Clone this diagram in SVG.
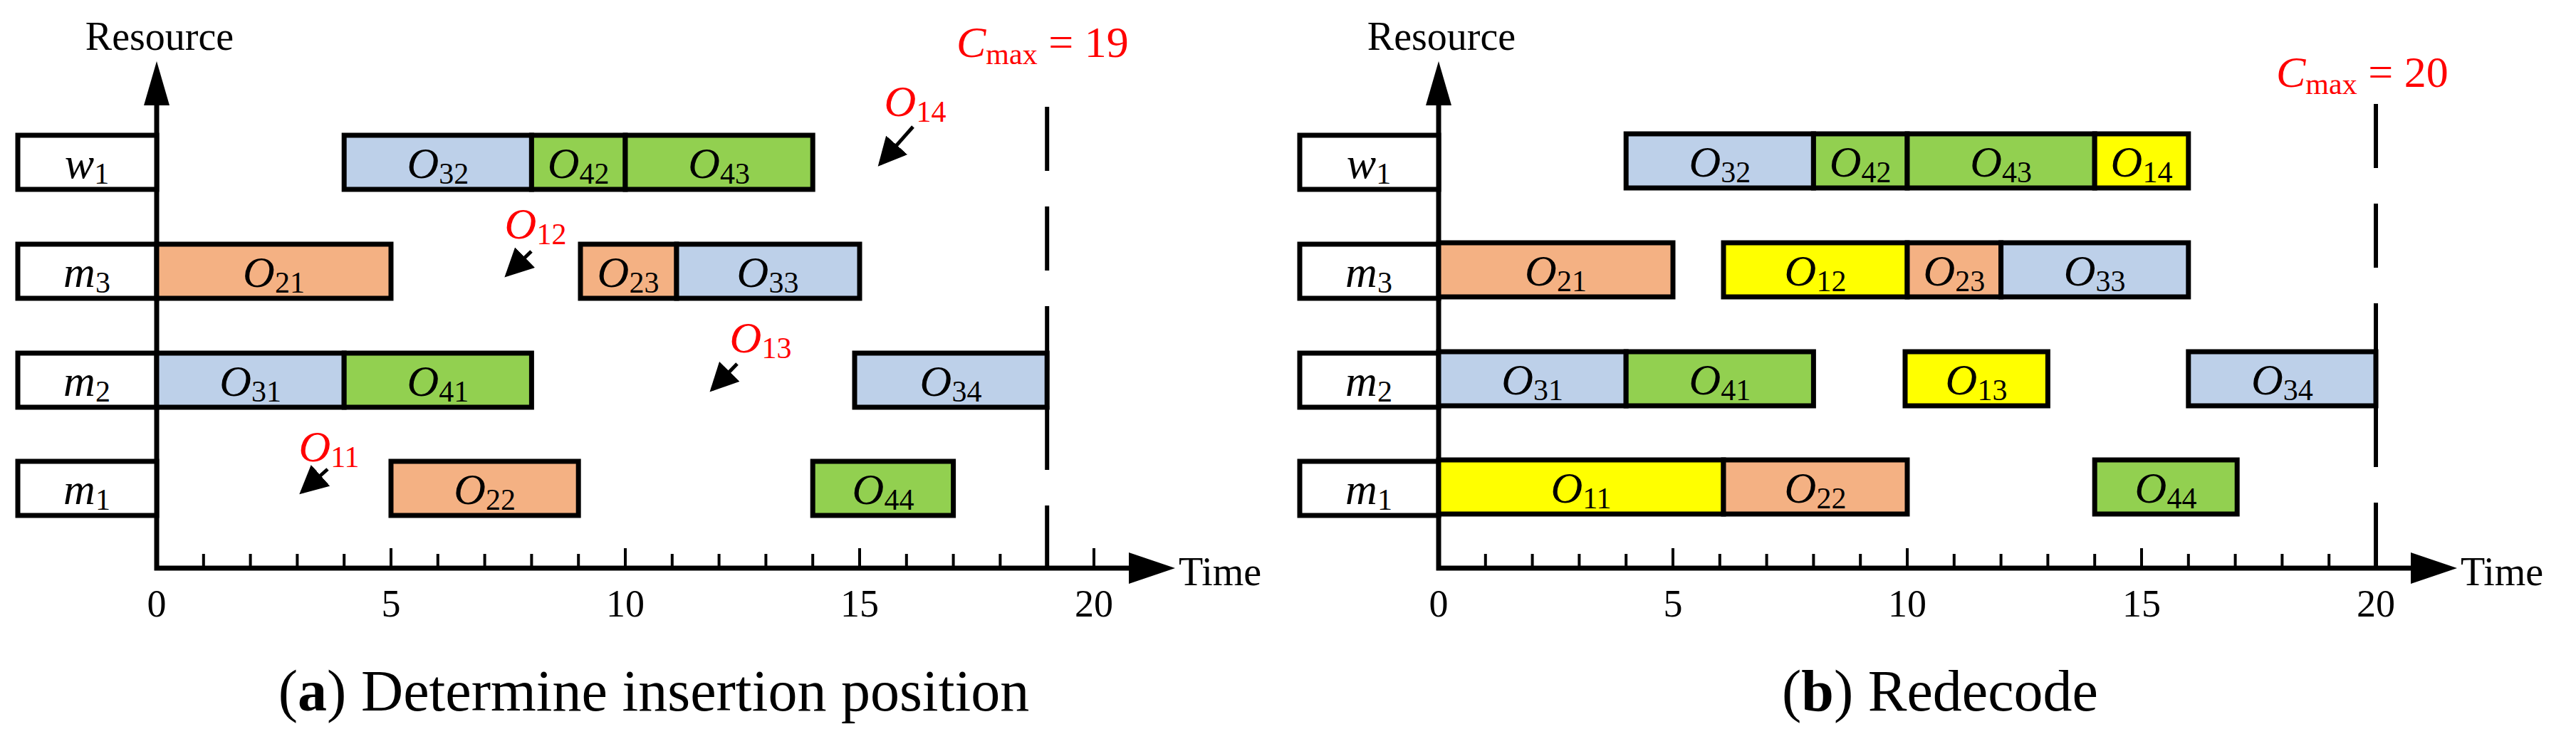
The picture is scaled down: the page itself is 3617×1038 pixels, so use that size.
<svg xmlns="http://www.w3.org/2000/svg" width="3617" height="1038" viewBox="0 0 3617 1038">
<style>
text{font-family:"Liberation Serif","Times New Roman",serif;}
.bar{stroke:#000;stroke-width:7}
.lab{fill:#fff;stroke:#000;stroke-width:7}
.b{fill:#BDD0E9}.g{fill:#92D050}.o{fill:#F4B183}.y{fill:#FFFF00}
.op{font-size:62px;font-style:italic;text-anchor:middle}
.op tspan{font-style:normal;font-size:42px}
.red{fill:#FF0000}
.ax{stroke:#000;stroke-width:7;fill:none}
.tk{stroke:#000;stroke-width:4;fill:none}
.num{font-size:54px;text-anchor:middle}
.dash{stroke:#000;stroke-width:6;stroke-dasharray:90 50;fill:none}
.cap{font-size:82px;text-anchor:middle}
</style>
<defs>
<path id="ticks" class="tk" d="M285.8 798v-20M351.6 798v-20M417.4 798v-20M483.2 798v-20M549 798v-28M614.8 798v-20M680.6 798v-20M746.4 798v-20M812.2 798v-20M878 798v-28M943.8 798v-20M1009.6 798v-20M1075.4 798v-20M1141.2 798v-20M1207 798v-28M1272.8 798v-20M1338.6 798v-20M1404.4 798v-20M1470.2 798v-20M1536 798v-28"/>
<g id="axes">
<path class="ax" d="M220 140V798H1590"/>
<polygon points="220,86 202,148 238,148"/>
<polygon points="1650,798 1585,776 1585,820"/>
<use href="#ticks"/>
<text x="224" y="70" font-size="56" text-anchor="middle">Resource</text>
<text x="1655" y="822" font-size="56">Time</text>
<text class="num" x="220" y="866">0</text>
<text class="num" x="549" y="866">5</text>
<text class="num" x="878" y="866">10</text>
<text class="num" x="1207" y="866">15</text>
<text class="num" x="1536" y="866">20</text>
<rect class="lab" x="25" y="190" width="195" height="76"/>
<rect class="lab" x="25" y="343" width="195" height="76"/>
<rect class="lab" x="25" y="496" width="195" height="76"/>
<rect class="lab" x="25" y="648" width="195" height="76"/>
<text class="op" x="122" y="250">w<tspan dy="8">1</tspan></text>
<text class="op" x="122" y="403">m<tspan dy="8">3</tspan></text>
<text class="op" x="122" y="556">m<tspan dy="8">2</tspan></text>
<text class="op" x="122" y="708">m<tspan dy="8">1</tspan></text>
</g>
<marker id="ah" markerWidth="8" markerHeight="8" refX="7" refY="4" orient="auto" markerUnits="strokeWidth"><path d="M0,0L8,4L0,8z"/></marker>
</defs>
<g id="panel-a">
<use href="#axes"/>
<path class="dash" d="M1470.2 150V798"/>
<text class="red" x="1343" y="80" font-size="62"><tspan font-style="italic">C</tspan><tspan font-size="42" dy="10">max</tspan><tspan dy="-10"> = 19</tspan></text>
<g id="a-w1">
<rect class="bar b" x="483.2" y="190" width="263.2" height="76"/><text class="op" x="614.8" y="250">O<tspan dy="8">32</tspan></text>
<rect class="bar g" x="746.4" y="190" width="131.6" height="76"/><text class="op" x="812.2" y="250">O<tspan dy="8">42</tspan></text>
<rect class="bar g" x="878" y="190" width="263.2" height="76"/><text class="op" x="1009.6" y="250">O<tspan dy="8">43</tspan></text>
</g>
<g id="a-m3">
<rect class="bar o" x="220" y="343" width="329" height="76"/><text class="op" x="384.5" y="403">O<tspan dy="8">21</tspan></text>
<rect class="bar o" x="815" y="343" width="135" height="76"/><text class="op" x="882" y="403">O<tspan dy="8">23</tspan></text>
<rect class="bar b" x="950" y="343" width="257" height="76"/><text class="op" x="1078" y="403">O<tspan dy="8">33</tspan></text>
</g>
<g id="a-m2">
<rect class="bar b" x="220" y="496" width="263.2" height="76"/><text class="op" x="351.6" y="556">O<tspan dy="8">31</tspan></text>
<rect class="bar g" x="483.2" y="496" width="263.2" height="76"/><text class="op" x="614.8" y="556">O<tspan dy="8">41</tspan></text>
<rect class="bar b" x="1200" y="496" width="270.2" height="76"/><text class="op" x="1335" y="556">O<tspan dy="8">34</tspan></text>
</g>
<g id="a-m1">
<rect class="bar o" x="549" y="648" width="263.2" height="76"/><text class="op" x="680.6" y="708">O<tspan dy="8">22</tspan></text>
<rect class="bar g" x="1141.2" y="648" width="197.4" height="76"/><text class="op" x="1240" y="708">O<tspan dy="8">44</tspan></text>
</g>
<g id="connectors" stroke="#000" stroke-width="5" fill="none">
<path d="M1282 178L1236 230" marker-end="url(#ah)"/>
<path d="M746 353L712 386" marker-end="url(#ah)"/>
<path d="M1035 511L1000 547" marker-end="url(#ah)"/>
<path d="M460 659L424 691" marker-end="url(#ah)"/>
</g>
<text class="op red" x="1285" y="163">O<tspan dy="8">14</tspan></text>
<text class="op red" x="752" y="335">O<tspan dy="8">12</tspan></text>
<text class="op red" x="1068" y="495">O<tspan dy="8">13</tspan></text>
<text class="op red" x="462" y="648">O<tspan dy="8">11</tspan></text>
<text class="cap" x="918" y="998">(<tspan font-weight="bold">a</tspan>) Determine insertion position</text>
</g>
<g id="panel-b" transform="translate(1800,0)">
<use href="#axes"/>
<path class="dash" d="M1536 146V798"/>
<text class="red" x="1396" y="122" font-size="62"><tspan font-style="italic">C</tspan><tspan font-size="42" dy="10">max</tspan><tspan dy="-10"> = 20</tspan></text>
<g id="b-w1">
<rect class="bar b" x="483.2" y="188" width="263.2" height="76"/><text class="op" x="614.8" y="248">O<tspan dy="8">32</tspan></text>
<rect class="bar g" x="746.4" y="188" width="131.6" height="76"/><text class="op" x="812.2" y="248">O<tspan dy="8">42</tspan></text>
<rect class="bar g" x="878" y="188" width="263.2" height="76"/><text class="op" x="1009.6" y="248">O<tspan dy="8">43</tspan></text>
<rect class="bar y" x="1141.2" y="188" width="131.6" height="76"/><text class="op" x="1207" y="248">O<tspan dy="8">14</tspan></text>
</g>
<g id="b-m3">
<rect class="bar o" x="220" y="341" width="329" height="76"/><text class="op" x="384.5" y="401">O<tspan dy="8">21</tspan></text>
<rect class="bar y" x="620" y="341" width="258" height="76"/><text class="op" x="749" y="401">O<tspan dy="8">12</tspan></text>
<rect class="bar o" x="878" y="341" width="131.6" height="76"/><text class="op" x="943.8" y="401">O<tspan dy="8">23</tspan></text>
<rect class="bar b" x="1009.6" y="341" width="263.2" height="76"/><text class="op" x="1141.2" y="401">O<tspan dy="8">33</tspan></text>
</g>
<g id="b-m2">
<rect class="bar b" x="220" y="494" width="263.2" height="76"/><text class="op" x="351.6" y="554">O<tspan dy="8">31</tspan></text>
<rect class="bar g" x="483.2" y="494" width="263.2" height="76"/><text class="op" x="614.8" y="554">O<tspan dy="8">41</tspan></text>
<rect class="bar y" x="875" y="494" width="200.4" height="76"/><text class="op" x="975" y="554">O<tspan dy="8">13</tspan></text>
<rect class="bar b" x="1272.8" y="494" width="263.2" height="76"/><text class="op" x="1404.4" y="554">O<tspan dy="8">34</tspan></text>
</g>
<g id="b-m1">
<rect class="bar y" x="220" y="646" width="400" height="76"/><text class="op" x="420" y="706">O<tspan dy="8">11</tspan></text>
<rect class="bar o" x="620" y="646" width="258" height="76"/><text class="op" x="749" y="706">O<tspan dy="8">22</tspan></text>
<rect class="bar g" x="1141.2" y="646" width="200" height="76"/><text class="op" x="1241" y="706">O<tspan dy="8">44</tspan></text>
</g>
<text class="cap" x="924" y="998">(<tspan font-weight="bold">b</tspan>) Redecode</text>
</g>
</svg>
